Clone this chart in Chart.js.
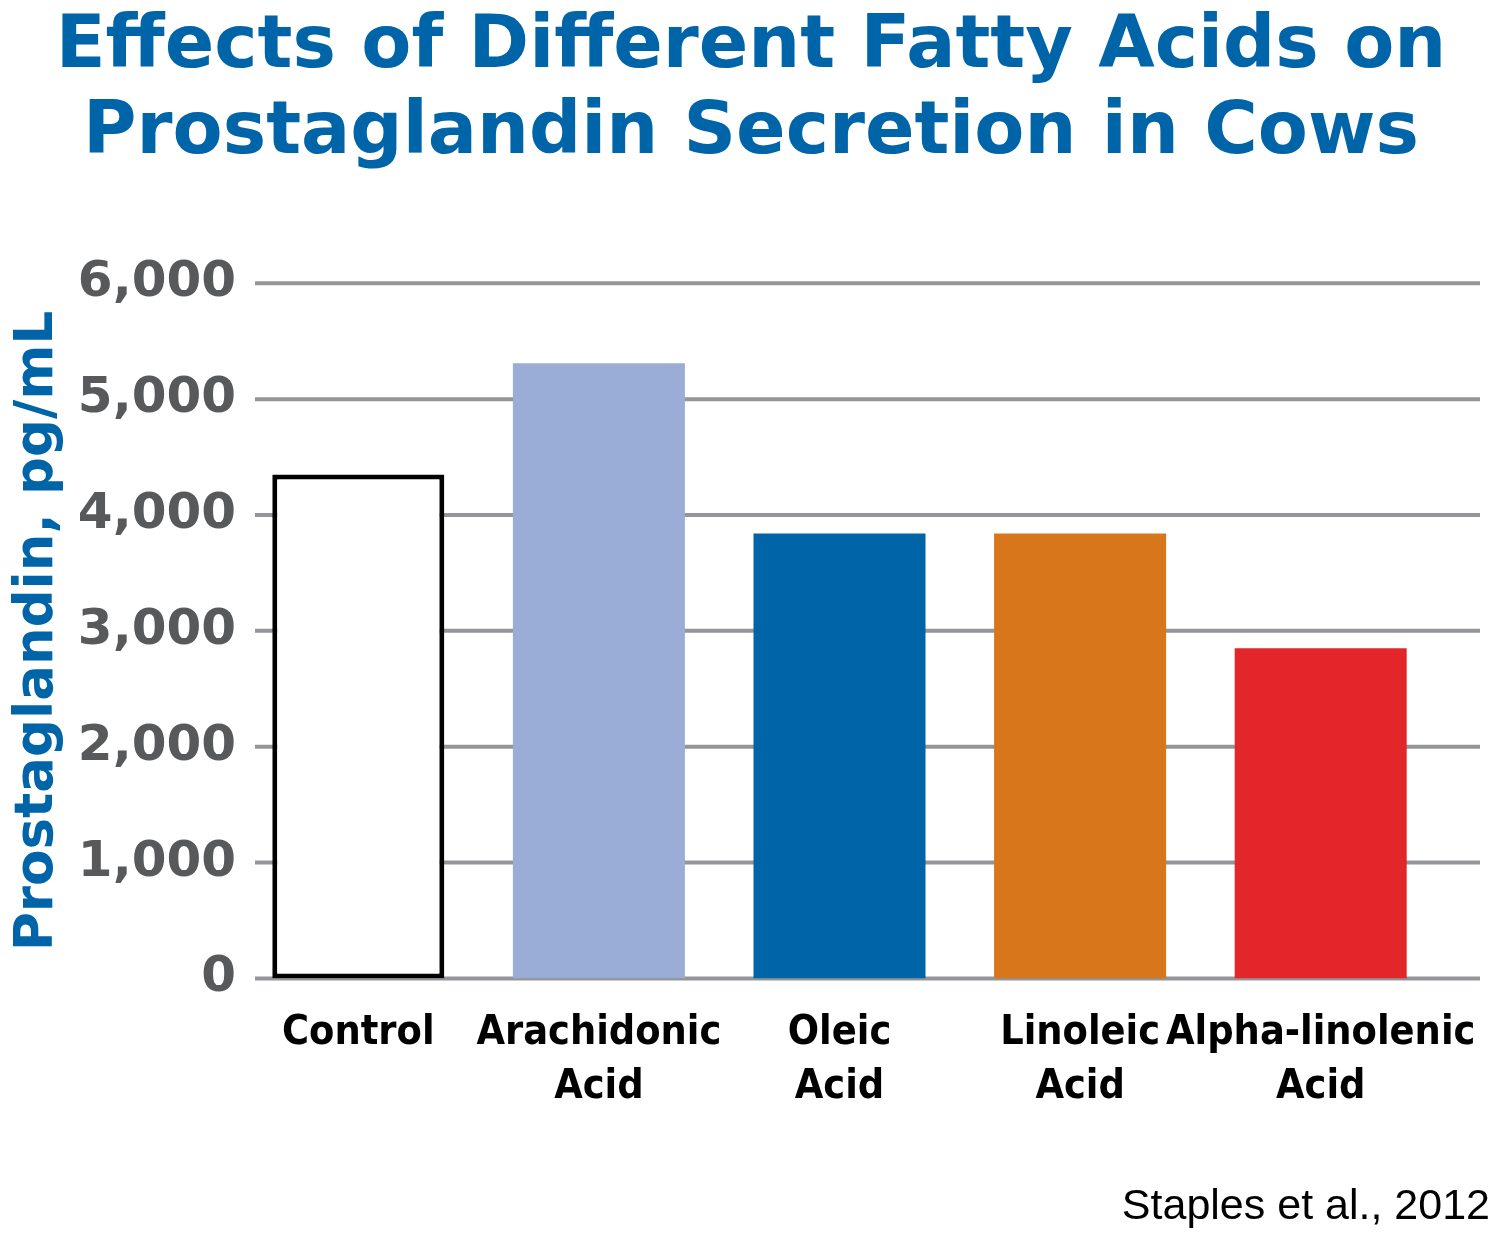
<!DOCTYPE html>
<html>
<head>
<meta charset="utf-8">
<title>Effects of Different Fatty Acids on Prostaglandin Secretion in Cows</title>
<script src="https://cdn.jsdelivr.net/npm/chart.js@4.4.1/dist/chart.umd.min.js"></script>
<style>
  html, body { margin: 0; padding: 0; background: #fff; }
  #wrap { width: 1500px; height: 1233px; position: relative; }
</style>
</head>
<body>
<div id="wrap"><canvas id="chart"></canvas></div>
<script>
// Data
const categories = [
    'Control',
    ['Arachidonic', 'Acid'],
    ['Oleic', 'Acid'],
    ['Linoleic', 'Acid'],
    ['Alpha-linolenic', 'Acid']
];
const prostaglandin = [4350, 5310, 3840, 3840, 2850];
const yTicks = [0, 1000, 2000, 3000, 4000, 5000, 6000];

const barColors = ['#ffffff', '#9aadd6', '#0064a8', '#d7761b', '#e3262a'];
const barBorders = ['#000000', '#9aadd6', '#0064a8', '#d7761b', '#e3262a'];
const barBorderWidths = [5, 0, 0, 0, 0];

const blue = '#0064a8';

// Gridlines run wider than the bar area in the original, so draw them here
const wideGrid = {
    id: 'wideGrid',
    beforeDatasetsDraw(chart) {
        const { ctx, chartArea, scales } = chart;
        const y = scales.y;
        ctx.save();
        ctx.strokeStyle = '#939598';
        ctx.lineWidth = 4;
        y.ticks.forEach(t => {
            const py = y.getPixelForValue(t.value);
            ctx.beginPath();
            ctx.moveTo(chartArea.left + 17, py);
            ctx.lineTo(chartArea.right + 39, py);
            ctx.stroke();
        });
        ctx.restore();
    }
};

new Chart(document.getElementById('chart').getContext('2d'), {
    type: 'bar',
    data: {
        labels: categories,
        datasets: [{
            data: prostaglandin,
            backgroundColor: barColors,
            borderColor: barBorders,
            borderWidth: barBorderWidths,
            borderSkipped: false,
            barPercentage: 0.715,
            categoryPercentage: 1.0
        }]
    },
    options: {
        responsive: true,
        maintainAspectRatio: false,
        animation: false,
        layout: { padding: { left: 12, right: 10, top: 0, bottom: 0 } },
        plugins: {
            legend: { display: false },
            tooltip: { enabled: false },
            title: {
                display: true,
                text: ['Effects of Different Fatty Acids on', 'Prostaglandin Secretion in Cows'],
                color: blue,
                font: { family: 'DejaVu Sans', weight: 'bold', size: 73, lineHeight: 1.18 },
                padding: { top: 5, bottom: 106 }
            },
            subtitle: {
                display: true,
                position: 'bottom',
                align: 'end',
                text: 'Staples et al., 2012',
                color: '#000000',
                font: { family: 'Liberation Sans', weight: 'normal', size: 43, lineHeight: 1.2 },
                padding: { top: 67, bottom: 0 }
            }
        },
        scales: {
            x: {
                // tick length (not drawn) pushes the labels down without widening the side padding
                grid: { display: false, drawTicks: true, tickLength: 28 },
                border: { display: false },
                ticks: {
                    color: '#000000',
                    padding: 0,
                    maxRotation: 0,
                    autoSkip: false,
                    font: { family: "'DejaVu Sans Condensed', sans-serif", weight: 'bold', size: 41, lineHeight: 1.317 }
                }
            },
            y: {
                min: 0,
                max: 6000,
                grid: { display: false, drawTicks: false },
                border: { display: false },
                afterBuildTicks(scale) {
                    scale.ticks = yTicks.map(v => ({ value: v }));
                },
                afterFit(scale) {
                    scale.width = 226;
                },
                ticks: {
                    color: '#58595b',
                    padding: 2,
                    font: { family: 'DejaVu Sans', weight: 'bold', size: 50 },
                    callback: v => v.toLocaleString('en-US')
                },
                title: {
                    display: true,
                    text: 'Prostaglandin, pg/mL',
                    color: blue,
                    font: { family: 'DejaVu Sans', weight: 'bold', size: 53, lineHeight: 1.0 },
                    padding: { top: 0, bottom: 0 }
                }
            },
            y2: {
                position: 'right',
                display: true,
                grid: { display: false },
                border: { display: false },
                ticks: { display: false },
                afterFit(scale) {
                    scale.width = 49;
                }
            }
        }
    },
    plugins: [wideGrid]
});
</script>
</body>
</html>
